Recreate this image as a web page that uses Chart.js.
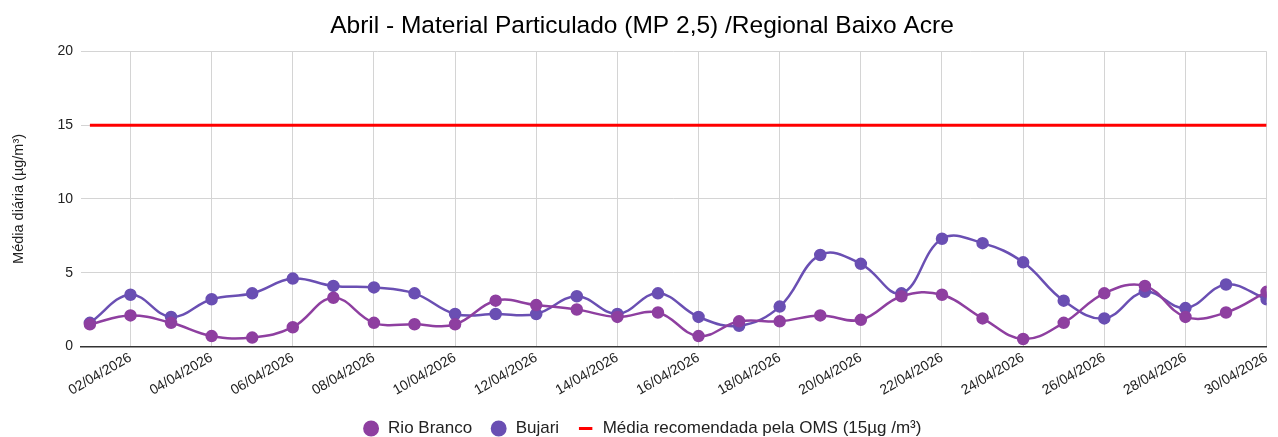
<!DOCTYPE html>
<html lang="pt-BR">

<head>
    <meta charset="UTF-8">
    <title>Abril - Material Particulado (MP 2,5)</title>
    <script src="https://cdn.jsdelivr.net/npm/chart.js"></script>
    <style>
        html, body {
            margin: 0;
            padding: 0;
            background-color: #ffffff;
        }

        .chart-container {
            width: 1278px;
            height: 437px;
        }
    </style>
</head>

<body>
    <div class="chart-container">
        <canvas id="mpChart"></canvas>
    </div>

    <script>
        const dates = ['01/04/2026', '02/04/2026', '03/04/2026', '04/04/2026', '05/04/2026', '06/04/2026',
            '07/04/2026', '08/04/2026', '09/04/2026', '10/04/2026', '11/04/2026', '12/04/2026',
            '13/04/2026', '14/04/2026', '15/04/2026', '16/04/2026', '17/04/2026', '18/04/2026',
            '19/04/2026', '20/04/2026', '21/04/2026', '22/04/2026', '23/04/2026', '24/04/2026',
            '25/04/2026', '26/04/2026', '27/04/2026', '28/04/2026', '29/04/2026', '30/04/2026'];

        const rioBranco = [1.5, 2.1, 1.6, 0.7, 0.6, 1.3, 3.3, 1.6, 1.5, 1.5,
            3.1, 2.8, 2.5, 2.0, 2.3, 0.7, 1.7, 1.7, 2.1, 1.8,
            3.4, 3.5, 1.9, 0.5, 1.6, 3.6, 4.1, 2.0, 2.3, 3.7];

        const bujari = [1.6, 3.5, 2.0, 3.2, 3.6, 4.6, 4.1, 4.0, 3.6, 2.2,
            2.2, 2.2, 3.4, 2.2, 3.6, 2.0, 1.4, 2.7, 6.2, 5.6,
            3.6, 7.3, 7.0, 5.7, 3.1, 1.9, 3.7, 2.6, 4.2, 3.2];

        const oms = [15, 15, 15, 15, 15, 15, 15, 15, 15, 15,
            15, 15, 15, 15, 15, 15, 15, 15, 15, 15,
            15, 15, 15, 15, 15, 15, 15, 15, 15, 15];

        const yTicks = [0, 5, 10, 15, 20];

        const toPoints = (values) => values.map((v, i) => ({ x: i, y: v }));

        const FONT = "'Liberation Sans', Arial, sans-serif";

        const createChart = () => {
            const ctx = document.getElementById('mpChart').getContext('2d');
            new Chart(ctx, {
                type: 'line',
                data: {
                    datasets: [{
                        label: 'Rio Branco',
                        data: toPoints(rioBranco),
                        borderColor: '#8e3fa0',
                        backgroundColor: '#8e3fa0',
                        borderWidth: 2.5,
                        pointRadius: 5,
                        pointHoverRadius: 5,
                        pointStyle: 'circle',
                        tension: 0.4
                    }, {
                        label: 'Bujari',
                        data: toPoints(bujari),
                        borderColor: '#6a4fb3',
                        backgroundColor: '#6a4fb3',
                        borderWidth: 2.5,
                        pointRadius: 5,
                        pointHoverRadius: 5,
                        pointStyle: 'circle',
                        tension: 0.4
                    }, {
                        label: 'Média recomendada pela OMS (15µg /m³)',
                        data: toPoints(oms),
                        borderColor: '#ff0000',
                        backgroundColor: '#ff0000',
                        borderWidth: 3,
                        pointRadius: 0,
                        pointStyle: 'line',
                        tension: 0
                    }]
                },
                options: {
                    responsive: true,
                    maintainAspectRatio: false,
                    animation: false,
                    layout: {
                        // legend sits close to the bottom edge, so let its lower padding run off the canvas
                        padding: { left: 10, right: 4, top: 0, bottom: -10 }
                    },
                    plugins: {
                        title: {
                            display: true,
                            text: 'Abril - Material Particulado (MP 2,5) /Regional Baixo Acre',
                            color: '#000000',
                            font: { family: FONT, size: 24.5, weight: 'normal' },
                            padding: { top: 12, bottom: 10 }
                        },
                        legend: {
                            position: 'bottom',
                            labels: {
                                usePointStyle: true,
                                boxWidth: 17,
                                boxHeight: 9.5,
                                padding: 18,
                                color: '#222222',
                                font: { family: FONT, size: 17 }
                            }
                        },
                        tooltip: { enabled: false }
                    },
                    scales: {
                        x: {
                            type: 'linear',
                            min: -0.22,
                            max: dates.length - 1,
                            grid: {
                                color: '#d4d4d4',
                                drawTicks: false
                            },
                            border: { display: true, color: '#333333', width: 1.5 },
                            ticks: {
                                stepSize: 1,
                                includeBounds: false,
                                autoSkip: false,
                                minRotation: 30,
                                maxRotation: 30,
                                padding: 3,
                                color: '#222222',
                                font: { family: FONT, size: 14 },
                                callback: (value) => {
                                    if (!Number.isInteger(value) || value % 2 === 0) return null;
                                    return dates[value];
                                }
                            }
                        },
                        y: {
                            min: 0,
                            max: 20,
                            afterBuildTicks: (scale) => {
                                scale.ticks = yTicks.map(v => ({ value: v }));
                            },
                            grid: {
                                color: '#d4d4d4',
                                drawTicks: false
                            },
                            border: { display: false },
                            ticks: {
                                padding: 8,
                                color: '#222222',
                                font: { family: FONT, size: 14 }
                            },
                            title: {
                                display: true,
                                text: 'Média diária (µg/m³)',
                                color: '#222222',
                                font: { family: FONT, size: 14.5 },
                                padding: { top: 0, bottom: 22 }
                            }
                        }
                    }
                }
            });
        };

        window.onload = () => {
            createChart();
        };
    </script>
</body>

</html>
